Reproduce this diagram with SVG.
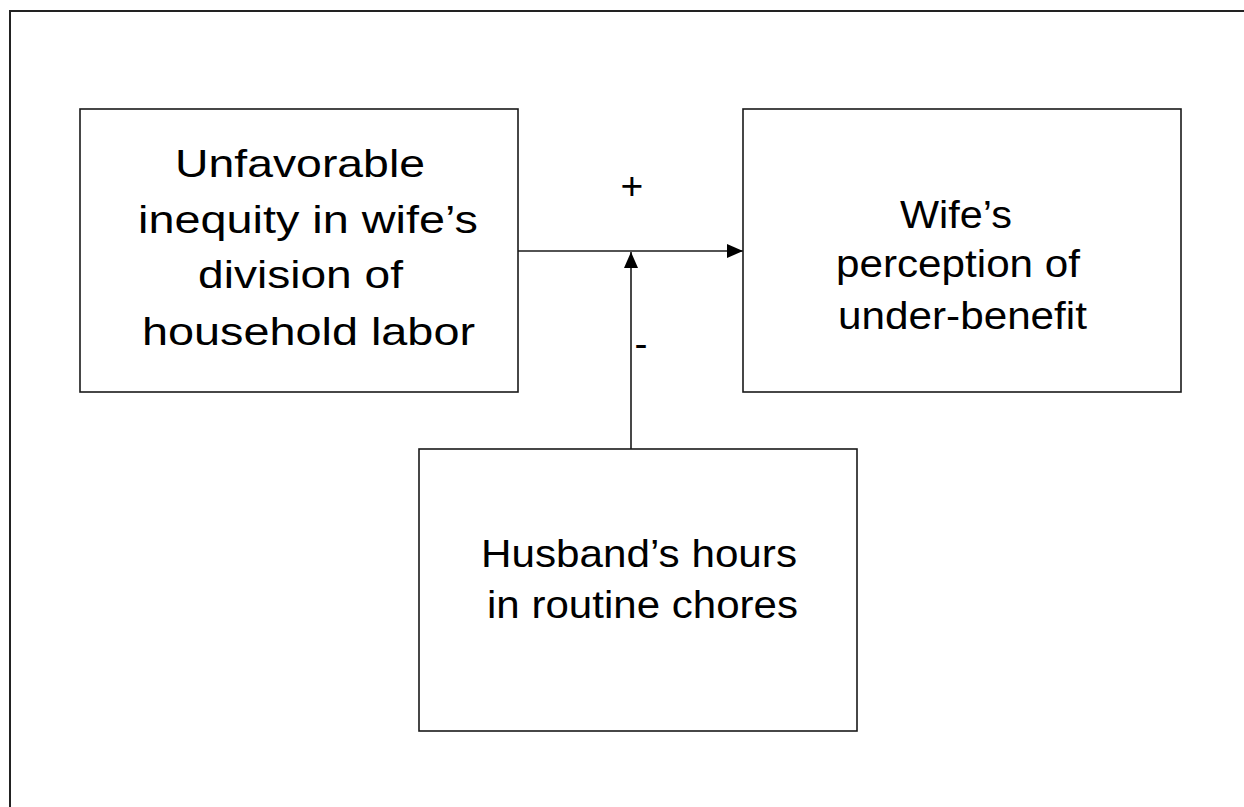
<svg xmlns="http://www.w3.org/2000/svg" width="1244" height="807" viewBox="0 0 1244 807">
<style>
.box{fill:#fff;stroke:#1a1a1a;stroke-width:1.6}
.t{font-family:"Liberation Sans",Arial,sans-serif;font-size:39px;fill:#000}
.c{fill:none;stroke:#1a1a1a;stroke-width:1.6}
</style>
<defs>
<marker id="ah" markerUnits="userSpaceOnUse" markerWidth="16" markerHeight="14" viewBox="0 0 16 14" refX="16" refY="7" orient="auto">
<path d="M0,0 L16,7 L0,14 Z" fill="#000"/>
</marker>
</defs>
<rect width="1244" height="807" fill="#fff"/>
<path d="M10,807 L10,11 L1244,11" fill="none" stroke="#222" stroke-width="2"/>
<g id="connectors">
<line class="c" x1="518" y1="251" x2="743" y2="251" marker-end="url(#ah)"/>
<line class="c" x1="631" y1="449" x2="631" y2="252" marker-end="url(#ah)"/>
<text class="t" x="632" y="199" text-anchor="middle">+</text>
<text class="t" x="641" y="357" text-anchor="middle">-</text>
</g>
<g id="node-inequity">
<rect class="box" x="80" y="109" width="438" height="283"/>
<text class="t" x="175" y="177" textLength="250" lengthAdjust="spacingAndGlyphs">Unfavorable</text>
<text class="t" x="138" y="233" textLength="340" lengthAdjust="spacingAndGlyphs">inequity in wife’s</text>
<text class="t" x="198" y="288" textLength="205" lengthAdjust="spacingAndGlyphs">division of</text>
<text class="t" x="142" y="345" textLength="333" lengthAdjust="spacingAndGlyphs">household labor</text>
</g>
<g id="node-perception">
<rect class="box" x="743" y="109" width="438" height="283"/>
<text class="t" x="900" y="228" textLength="112" lengthAdjust="spacingAndGlyphs">Wife’s</text>
<text class="t" x="836" y="277" textLength="244" lengthAdjust="spacingAndGlyphs">perception of</text>
<text class="t" x="838" y="329" textLength="249" lengthAdjust="spacingAndGlyphs">under-benefit</text>
</g>
<g id="node-husband">
<rect class="box" x="419" y="449" width="438" height="282"/>
<text class="t" x="481" y="567" textLength="316" lengthAdjust="spacingAndGlyphs">Husband’s hours</text>
<text class="t" x="487" y="618" textLength="311" lengthAdjust="spacingAndGlyphs">in routine chores</text>
</g>
</svg>
